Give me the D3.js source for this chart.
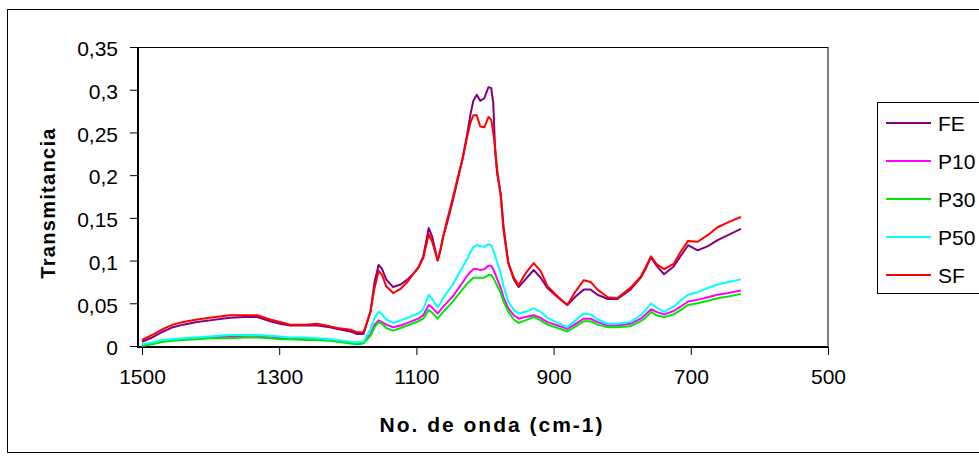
<!DOCTYPE html>
<html>
<head>
<meta charset="utf-8">
<script src="https://cdn.jsdelivr.net/npm/d3@7"></script>
<style>
  html, body { margin: 0; padding: 0; background: #fff; }
  svg { display: block; font-family: "Liberation Sans", Arial, sans-serif; }
</style>
</head>
<body>
<svg id="chart" width="979" height="457"></svg>
<script>
// Wavenumber (cm-1) sampling shared by every spectrum
const wavenumbers = [1500,1485,1469,1455,1440,1420,1401,1372,1350,1332,1313,1299,1284,1262,1245,1226,1215,1196,1186,1177,
  1167,1161,1155,1150,1144,1134,1123,1113,1104,1097,1090,1082,1077,1069,1065,1061,1055,1047,1040,1033,
  1026,1021,1017,1012,1007,1001,995,991,988,985,982,977,973,966,958,951,941,929,919,909,
  894,880,868,856,846,836,821,807,788,773,766,758,750,739,725,715,704,690,675,661,645,627];

const seriesNames = ["FE", "P10", "P30", "P50", "SF"];

const FE = [0.005,0.010,0.017,0.022,0.025,0.028,0.030,0.033,0.034,0.034,0.029,0.026,0.024,0.024,0.024,0.022,0.020,0.017,0.014,0.014,
  0.040,0.075,0.095,0.090,0.078,0.069,0.072,0.078,0.085,0.092,0.105,0.138,0.128,0.100,0.112,0.128,0.145,0.170,0.194,0.218,
  0.248,0.272,0.287,0.294,0.287,0.290,0.303,0.302,0.285,0.225,0.200,0.178,0.140,0.097,0.078,0.069,0.078,0.089,0.080,0.068,
  0.057,0.048,0.058,0.066,0.066,0.060,0.055,0.055,0.066,0.080,0.090,0.104,0.094,0.084,0.093,0.105,0.118,0.112,0.117,0.124,0.130,0.137];

const P10 = [0.001,0.003,0.006,0.007,0.008,0.009,0.010,0.011,0.012,0.012,0.010,0.009,0.009,0.008,0.008,0.007,0.006,0.004,0.003,0.004,
  0.014,0.025,0.030,0.028,0.025,0.022,0.024,0.027,0.030,0.032,0.036,0.048,0.045,0.038,0.042,0.046,0.051,0.058,0.066,0.074,
  0.082,0.087,0.090,0.090,0.089,0.090,0.094,0.094,0.090,0.084,0.078,0.068,0.057,0.044,0.036,0.032,0.034,0.036,0.033,0.028,
  0.024,0.020,0.026,0.032,0.032,0.028,0.024,0.024,0.026,0.032,0.037,0.043,0.040,0.037,0.041,0.046,0.052,0.054,0.057,0.060,0.062,0.065];

const P30 = [0.000,0.002,0.005,0.006,0.007,0.008,0.009,0.009,0.010,0.010,0.009,0.008,0.008,0.007,0.007,0.006,0.005,0.003,0.002,0.003,
  0.012,0.022,0.028,0.026,0.021,0.018,0.021,0.024,0.027,0.029,0.032,0.042,0.039,0.032,0.036,0.040,0.045,0.052,0.059,0.066,
  0.073,0.077,0.080,0.080,0.080,0.080,0.083,0.083,0.080,0.075,0.070,0.062,0.052,0.040,0.031,0.027,0.030,0.034,0.030,0.025,
  0.021,0.017,0.023,0.029,0.029,0.025,0.022,0.022,0.023,0.029,0.033,0.040,0.036,0.034,0.037,0.042,0.048,0.050,0.053,0.056,0.058,0.061];

const P50 = [0.002,0.004,0.007,0.008,0.009,0.010,0.011,0.013,0.013,0.013,0.012,0.011,0.010,0.010,0.009,0.008,0.007,0.005,0.004,0.005,
  0.020,0.033,0.040,0.037,0.031,0.027,0.030,0.033,0.036,0.038,0.043,0.060,0.055,0.045,0.050,0.056,0.063,0.072,0.082,0.092,
  0.102,0.110,0.116,0.118,0.117,0.116,0.119,0.118,0.112,0.105,0.097,0.085,0.070,0.052,0.042,0.038,0.040,0.044,0.040,0.033,
  0.027,0.022,0.030,0.038,0.037,0.031,0.026,0.026,0.028,0.036,0.042,0.050,0.045,0.040,0.046,0.053,0.060,0.063,0.068,0.072,0.075,0.078];

const SF = [0.007,0.013,0.020,0.025,0.028,0.031,0.033,0.036,0.036,0.036,0.031,0.028,0.025,0.025,0.026,0.023,0.021,0.019,0.016,0.016,
  0.040,0.068,0.088,0.083,0.070,0.062,0.067,0.075,0.085,0.092,0.103,0.131,0.122,0.100,0.112,0.128,0.148,0.173,0.196,0.218,
  0.245,0.262,0.270,0.270,0.257,0.256,0.268,0.265,0.250,0.230,0.205,0.175,0.135,0.097,0.080,0.071,0.085,0.097,0.088,0.070,
  0.058,0.048,0.064,0.077,0.075,0.066,0.057,0.056,0.068,0.081,0.092,0.105,0.096,0.090,0.096,0.110,0.123,0.122,0.130,0.139,0.145,0.151];

const xTicks = [1500, 1300, 1100, 900, 700, 500];
const yTicks = [0, 0.05, 0.1, 0.15, 0.2, 0.25, 0.3, 0.35];

const colors = { FE: "#800080", P10: "#ff00ff", P30: "#00e600", P50: "#00ffff", SF: "#ff0000" };
const values = { FE, P10, P30, P50, SF };

const svg = d3.select("#chart");

// Outer chart frame
svg.append("rect")
  .attr("x", 7.5).attr("y", 9.5).attr("width", 1000).attr("height", 443)
  .attr("fill", "#fff").attr("stroke", "#000").attr("stroke-width", 1);

const plot = { left: 138, right: 828, top: 47, bottom: 347 };

const x = d3.scaleLinear().domain([1500, 500]).range([142, 828]);
const y = d3.scaleLinear().domain([0, 0.35]).range([346, 47]);

const locale = d3.formatLocale({ decimal: ",", thousands: ".", grouping: [3], currency: ["", ""] });
const fmt = locale.format("~g");

// Plot area border (top and right thin, axes thicker)
svg.append("rect")
  .attr("x", plot.left).attr("y", plot.top + 0.5)
  .attr("width", plot.right - plot.left).attr("height", plot.bottom - plot.top - 0.5)
  .attr("fill", "none").attr("stroke", "#000").attr("stroke-width", 1);

// Y axis
const yAxis = svg.append("g")
  .attr("transform", `translate(${plot.left},0)`)
  .call(d3.axisLeft(y).tickValues(yTicks).tickFormat(fmt).tickSize(8).tickSizeOuter(0).tickPadding(12));
yAxis.select(".domain").remove();
yAxis.selectAll(".tick line").attr("stroke", "#000").attr("stroke-width", 1);
yAxis.selectAll(".tick text")
  .attr("font-family", "Liberation Sans, Arial, sans-serif")
  .attr("font-size", 21).attr("fill", "#000").attr("dy", "0.42em");

// X axis
const xAxis = svg.append("g")
  .attr("transform", `translate(0,${plot.bottom})`)
  .call(d3.axisBottom(x).tickValues(xTicks).tickFormat(d3.format("d")).tickSize(8).tickSizeOuter(0).tickPadding(10));
xAxis.select(".domain").remove();
xAxis.selectAll(".tick line").attr("stroke", "#000").attr("stroke-width", 1);
xAxis.selectAll(".tick text")
  .attr("font-family", "Liberation Sans, Arial, sans-serif")
  .attr("font-size", 21).attr("fill", "#000").attr("dy", "0.9em");

// Axis lines
svg.append("line")
  .attr("x1", plot.left).attr("x2", plot.left).attr("y1", plot.top).attr("y2", plot.bottom + 1)
  .attr("stroke", "#000").attr("stroke-width", 2);
svg.append("line")
  .attr("x1", plot.left - 1).attr("x2", plot.right).attr("y1", plot.bottom).attr("y2", plot.bottom)
  .attr("stroke", "#000").attr("stroke-width", 2);

// Spectra
const line = d3.line()
  .x((d, i) => x(wavenumbers[i]))
  .y(d => y(d))
  .curve(d3.curveLinear);

svg.append("g").selectAll("path")
  .data(seriesNames)
  .join("path")
  .attr("d", name => line(values[name]))
  .attr("fill", "none")
  .attr("stroke", name => colors[name])
  .attr("stroke-width", 2)
  .attr("stroke-linejoin", "round");

// Axis titles
svg.append("text")
  .attr("x", 492).attr("y", 432)
  .attr("text-anchor", "middle")
  .attr("font-size", 21).attr("font-weight", "bold")
  .attr("letter-spacing", 2)
  .text("No. de onda (cm-1)");

svg.append("text")
  .attr("transform", "translate(55,203) rotate(-90)")
  .attr("text-anchor", "middle")
  .attr("font-size", 20).attr("font-weight", "bold")
  .attr("letter-spacing", 1.3)
  .text("Transmitancia");

// Legend
const legend = svg.append("g");
legend.append("rect")
  .attr("x", 877.5).attr("y", 102.5).attr("width", 140).attr("height", 191)
  .attr("fill", "#fff").attr("stroke", "#000").attr("stroke-width", 1);

const legendY = d3.scalePoint().domain(seriesNames).range([123, 275]);
const items = legend.selectAll("g.item")
  .data(seriesNames)
  .join("g")
  .attr("class", "item")
  .attr("transform", d => `translate(0,${legendY(d)})`);
items.append("line")
  .attr("x1", 886).attr("x2", 931).attr("y1", 0).attr("y2", 0)
  .attr("stroke", d => colors[d]).attr("stroke-width", 2);
items.append("text")
  .attr("x", 938).attr("y", 0).attr("dy", "0.36em")
  .attr("font-size", 21).attr("fill", "#000")
  .text(d => d);
</script>
</body>
</html>
